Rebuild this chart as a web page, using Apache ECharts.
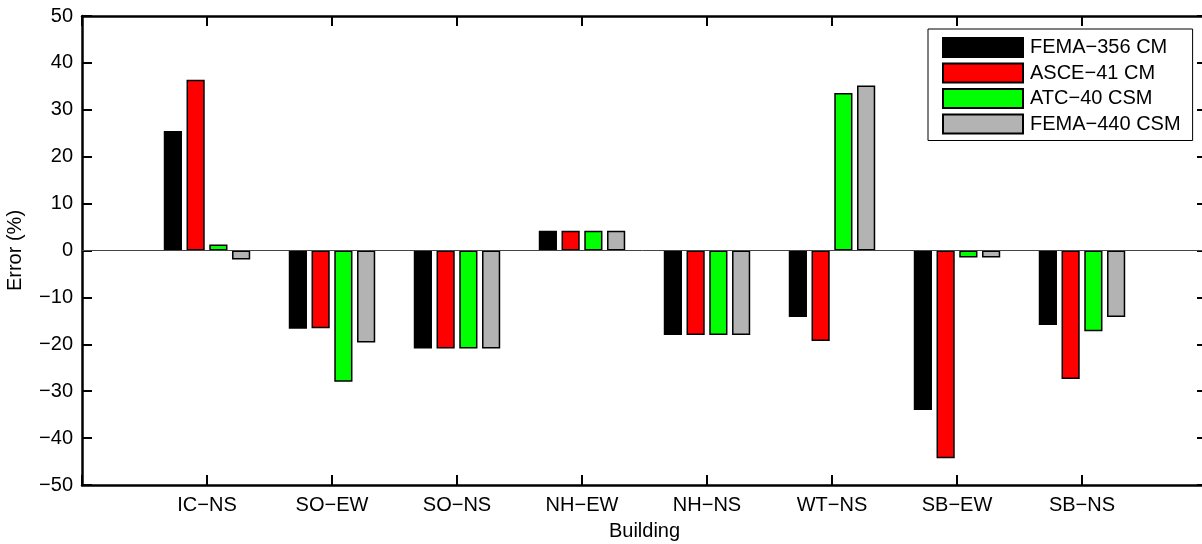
<!DOCTYPE html>
<html>
<head>
<meta charset="utf-8">
<script src="https://cdn.jsdelivr.net/npm/echarts@6/dist/echarts.min.js"></script>
<style>
html,body{margin:0;padding:0;background:#fff;}
#c{width:1202px;height:544px;}
</style>
</head>
<body>
<div id="c"></div>
<script>
const categories = ['IC\u2212NS','SO\u2212EW','SO\u2212NS','NH\u2212EW','NH\u2212NS','WT\u2212NS','SB\u2212EW','SB\u2212NS'];
const seriesNames = ['FEMA\u2212356 CM','ASCE\u221241 CM','ATC\u221240 CSM','FEMA\u2212440 CSM'];
const fema356 = [25.5, -16.7, -20.9, 4.2, -18.0, -14.2, -34.0, -15.9];
const asce41  = [36.4, -16.6, -20.9, 4.2, -18.0, -19.3, -44.3, -27.4];
const atc40   = [1.3, -28.0, -20.9, 4.2, -18.0, 33.6, -1.5, -17.2];
const fema440 = [-1.9, -19.6, -20.9, 4.2, -18.0, 35.2, -1.5, -14.2];
const yTicks = [-50,-40,-30,-20,-10,0,10,20,30,40,50];

const colors = ['#000000','#ff0000','#00ff00','#b3b3b3'];
const values = [fema356, asce41, atc40, fema440];
const FONT = 'Liberation Sans, Arial, Helvetica, sans-serif';

const chart = echarts.init(document.getElementById('c'), null, {renderer:'canvas'});

const tickStyle = {show:true, inside:true, length:10, lineStyle:{color:'#000', width:2}};
const axisLineStyle = {show:true, onZero:false, lineStyle:{color:'#000', width:2.5}};

const series = values.map((vals, si) => {
  const s = {
    name: seriesNames[si],
    type: 'bar',
    xAxisIndex: 0,
    yAxisIndex: 0,
    barWidth: 18.2,
    barGap: '25%',
    itemStyle: {color: colors[si], borderColor:'#000', borderWidth:1.5},
    emphasis: {disabled:true},
    data: vals.map((v, i) => [i + 1, v])
  };
  if (si === 0) {
    s.markLine = {
      silent: true,
      symbol: ['none','none'],
      label: {show:false},
      lineStyle: {color:'#444', width:1, type:'solid'},
      data: [{yAxis: 0}]
    };
  }
  return s;
});

chart.setOption({
  animation: false,
  backgroundColor: '#fff',
  textStyle: {fontFamily: FONT},
  grid: {left:82, top:16, width:1125, height:469, outerBoundsMode:'none', containLabel:false},
  legend: {
    orient: 'vertical',
    left: 928, top: 29,
    itemWidth: 80, itemHeight: 19, itemGap: 4.5,
    padding: [8, 12, 6, 14],
    borderColor: '#000', borderWidth: 1, backgroundColor: '#fff',
    textStyle: {fontSize: 20, color: '#000', fontFamily: FONT, lineHeight: 19, padding:[0,0,0,2]},
    icon: 'rect',
    data: seriesNames
  },
  xAxis: [
    {
      type:'value', min:0, max:9, interval:1, position:'bottom',
      name:'Building', nameLocation:'middle', nameGap:36,
      nameTextStyle:{fontSize:20, color:'#000', fontFamily:FONT},
      axisLine: axisLineStyle, axisTick: tickStyle,
      splitLine:{show:false},
      axisLabel:{fontSize:20, color:'#000', margin:10, fontFamily:FONT,
        formatter: v => (v >= 1 && v <= categories.length) ? categories[v-1] : ''}
    },
    {
      type:'value', min:0, max:9, interval:1, position:'top',
      axisLine: axisLineStyle, axisTick: tickStyle,
      splitLine:{show:false}, axisLabel:{show:false}
    }
  ],
  yAxis: [
    {
      type:'value', min:yTicks[0], max:yTicks[yTicks.length-1], interval:10, position:'left',
      name:'Error (%)', nameLocation:'middle', nameGap:57, nameRotate:90,
      nameTextStyle:{fontSize:20, color:'#000', fontFamily:FONT},
      axisLine: axisLineStyle, axisTick: tickStyle,
      splitLine:{show:false},
      axisLabel:{fontSize:20, color:'#000', margin:9, fontFamily:FONT,
        formatter: v => String(v).replace('-', '\u2212')}
    },
    {
      type:'value', min:yTicks[0], max:yTicks[yTicks.length-1], interval:10, position:'right',
      axisLine: axisLineStyle, axisTick: tickStyle,
      splitLine:{show:false}, axisLabel:{show:false}
    }
  ],
  series: series
});
</script>
</body>
</html>
